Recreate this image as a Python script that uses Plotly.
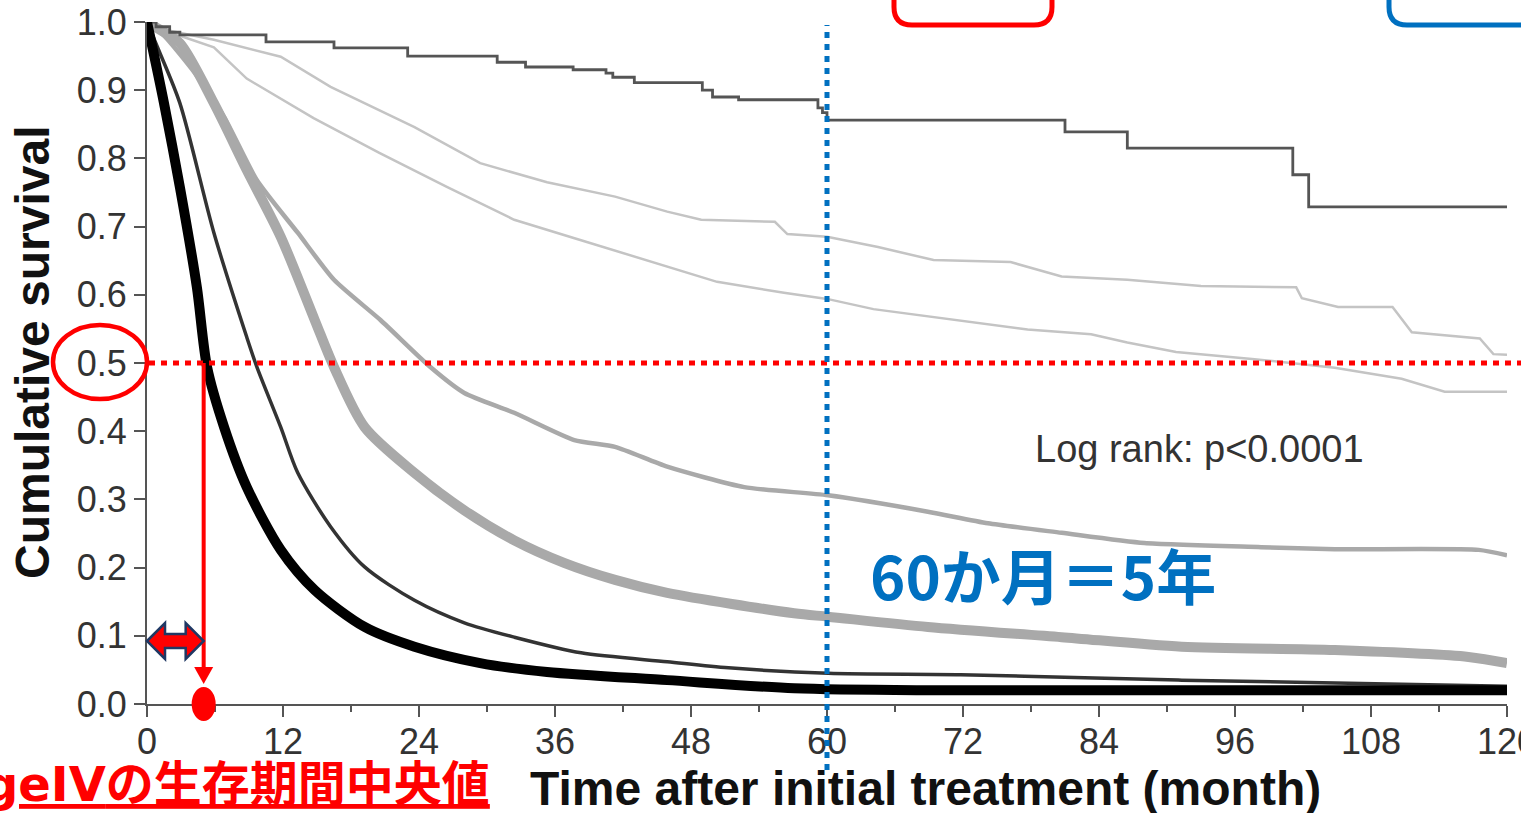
import plotly.graph_objects as go

# ---------------- data: Kaplan-Meier survival by stage ----------------
X_MAX = 120
x_ticks = list(range(0, 121, 12))
y_ticks = [i / 10 for i in range(11)]

# stage 0 (step curve)
t_stage0 = [0, 0.8, 2.0, 2.9, 10.5, 16.5, 23.0, 30.9, 33.4, 37.6, 40.5, 41.1, 43.0,
            49.0, 49.9, 52.2, 59.2, 59.6, 60.0, 81.0, 86.5, 101.1, 102.5, 120]
s_stage0 = [1.000, 0.993, 0.985, 0.981, 0.971, 0.962, 0.950, 0.941, 0.934, 0.930, 0.925, 0.919, 0.911,
            0.900, 0.890, 0.886, 0.874, 0.867, 0.856, 0.839, 0.815, 0.776, 0.729, 0.729]

# stage I
t_stage1 = [0, 1.8, 5.9, 11.8, 16.2, 23.6, 29.4, 35.3, 41.3, 45.9, 48.9, 55.4, 56.5, 60.0,
            64.5, 69.4, 76.2, 80.7, 86.5, 93.0, 101.4, 101.9, 105.1, 109.9, 111.6, 117.6, 118.8, 120]
s_stage1 = [1.000, 0.988, 0.974, 0.949, 0.905, 0.846, 0.793, 0.765, 0.744, 0.722, 0.710, 0.707, 0.689, 0.685,
            0.670, 0.651, 0.648, 0.627, 0.622, 0.613, 0.611, 0.595, 0.582, 0.582, 0.545, 0.536, 0.513, 0.512]

# stage II
t_stage2 = [0, 2.0, 5.9, 8.8, 14.7, 20.5, 26.5, 32.4, 38.3, 45.9, 50.3, 56.2, 60.0, 64.1,
            73.0, 77.7, 83.3, 86.5, 90.8, 97.5, 104.8, 110.7, 114.5, 120]
s_stage2 = [1.000, 0.985, 0.963, 0.917, 0.859, 0.808, 0.758, 0.710, 0.680, 0.641, 0.619, 0.603, 0.594, 0.579,
            0.560, 0.549, 0.542, 0.530, 0.516, 0.506, 0.493, 0.477, 0.458, 0.458]

# stage IIIA
t_stage3a = [0, 1.5, 4.0, 6.8, 9.7, 13.3, 16.5, 20.6, 25.0, 28.0, 32.4, 37.7, 41.3, 45.9, 52.7,
             60.1, 68.9, 74.2, 80.7, 88.0, 98.3, 104.8, 117.5, 120]
s_stage3a = [1.000, 0.980, 0.930, 0.861, 0.768, 0.691, 0.622, 0.563, 0.494, 0.456, 0.427, 0.387, 0.377, 0.348, 0.318,
             0.306, 0.282, 0.265, 0.251, 0.236, 0.230, 0.227, 0.226, 0.218]

# stage IIIB
t_stage3b = [0, 1.0, 2.9, 5.9, 8.8, 11.8, 14.8, 16.5, 19.2, 23.6, 28.0, 32.4, 36.8, 41.3, 45.9,
             57.1, 60.1, 68.9, 80.7, 91.3, 104.8, 116.6, 120]
s_stage3b = [1.000, 0.990, 0.969, 0.881, 0.783, 0.685, 0.563, 0.494, 0.406, 0.339, 0.284, 0.240, 0.207, 0.182, 0.163,
             0.133, 0.128, 0.113, 0.098, 0.084, 0.079, 0.069, 0.060]

# stage IVA
t_stage4a = [0, 1.0, 2.9, 5.9, 8.8, 9.7, 11.8, 13.3, 16.2, 19.2, 23.6, 28.0, 32.4, 38.3, 45.9,
             51.3, 60.1, 71.8, 83.6, 91.3, 120]
s_stage4a = [1.000, 0.960, 0.881, 0.691, 0.538, 0.494, 0.406, 0.339, 0.260, 0.201, 0.152, 0.119, 0.098, 0.075, 0.062,
             0.053, 0.045, 0.043, 0.038, 0.035, 0.026]

# stage IV
t_stage4 = [0, 1.5, 2.9, 4.4, 5.3, 6.8, 8.8, 11.8, 14.8, 19.2, 23.6, 29.4, 35.3, 45.9, 57.1, 68.9, 120]
s_stage4 = [1.000, 0.881, 0.758, 0.611, 0.494, 0.406, 0.318, 0.226, 0.167, 0.113, 0.084, 0.060, 0.047, 0.035, 0.023,
            0.020, 0.020]

MEDIAN_STAGE4 = 5.0     # months
FIVE_YEARS = 60         # months

# ---------------- geometry helpers ----------------
W, H = 1521, 813
PLOT_L, PLOT_R, PLOT_T, PLOT_B = 147, 1507, 22, 704


def px_x(px):
    return (px - PLOT_L) / (PLOT_R - PLOT_L)


def px_y(py):
    return (PLOT_B - py) / (PLOT_B - PLOT_T)


def data_x(t):
    return t / X_MAX


def data_px(t):
    return PLOT_L + t / X_MAX * (PLOT_R - PLOT_L)


def path(points, close=False):
    s = "M " + " L ".join(f"{px_x(x):.5f},{px_y(y):.5f}" for x, y in points)
    return s + (" Z" if close else "")


def rounded_bottom(x0, x1, ybot, ytop, r):
    return (f"M {px_x(x0):.5f},{px_y(ytop):.5f} L {px_x(x0):.5f},{px_y(ybot - r):.5f} "
            f"Q {px_x(x0):.5f},{px_y(ybot):.5f} {px_x(x0 + r):.5f},{px_y(ybot):.5f} "
            f"L {px_x(x1 - r):.5f},{px_y(ybot):.5f} "
            f"Q {px_x(x1):.5f},{px_y(ybot):.5f} {px_x(x1):.5f},{px_y(ybot - r):.5f} "
            f"L {px_x(x1):.5f},{px_y(ytop):.5f}")


RED = "#FF0000"
BLUE = "#0070C0"
NAVY = "#1F3864"
SANS = "Liberation Sans, Arial, sans-serif"

fig = go.Figure()

curves = [
    (t_stage1, s_stage1, "#c4c4c4", 2.5, "linear", 0, "Stage I"),
    (t_stage2, s_stage2, "#c4c4c4", 2.5, "linear", 0, "Stage II"),
    (t_stage3a, s_stage3a, "#a9a9a9", 4.5, "spline", 0.6, "Stage IIIA"),
    (t_stage3b, s_stage3b, "#a9a9a9", 10, "spline", 0.8, "Stage IIIB"),
    (t_stage0, s_stage0, "#555555", 2.8, "hv", 0, "Stage 0"),
    (t_stage4a, s_stage4a, "#333333", 3.5, "spline", 0.8, "Stage IVA"),
    (t_stage4, s_stage4, "#000000", 10, "spline", 0.8, "Stage IV"),
]
for t, s, color, width, shape, smooth, name in curves:
    line = dict(color=color, width=width, shape=shape)
    if shape == "spline":
        line["smoothing"] = smooth
    fig.add_trace(go.Scatter(x=t, y=s, mode="lines", name=name, line=line, hoverinfo="skip"))

xm = data_px(MEDIAN_STAGE4)
shapes = [
    # ring around the 0.5 tick label
    dict(type="circle", xref="paper", yref="paper",
         x0=px_x(53), x1=px_x(147), y0=px_y(399), y1=px_y(325),
         line=dict(color=RED, width=4.5)),
    # 50% survival guide
    dict(type="line", xref="paper", yref="paper",
         x0=px_x(149), x1=px_x(1525), y0=0.5, y1=0.5,
         line=dict(color=RED, width=5, dash="6px,6px")),
    # five-year guide
    dict(type="line", xref="paper", yref="paper",
         x0=data_x(FIVE_YEARS), x1=data_x(FIVE_YEARS), y0=px_y(770), y1=px_y(25),
         line=dict(color=BLUE, width=5, dash="6px,6px")),
    # drop line from median survival
    dict(type="line", xref="paper", yref="paper",
         x0=data_x(MEDIAN_STAGE4), x1=data_x(MEDIAN_STAGE4), y0=0.5, y1=px_y(668),
         line=dict(color=RED, width=4)),
    dict(type="path", xref="paper", yref="paper",
         path=path([(xm - 9.5, 667), (xm + 9.5, 667), (xm, 684)], close=True),
         fillcolor=RED, line=dict(width=0)),
    # median marker on the time axis
    dict(type="circle", xref="paper", yref="paper",
         x0=px_x(xm - 12), x1=px_x(xm + 12), y0=px_y(721), y1=px_y(687),
         fillcolor=RED, line=dict(width=0)),
    # double arrow spanning 0 .. median
    dict(type="path", xref="paper", yref="paper",
         path=path([(PLOT_L, 641), (PLOT_L + 18, 623), (PLOT_L + 18, 634), (xm - 18, 634),
                    (xm - 18, 623), (xm, 641), (xm - 18, 659), (xm - 18, 648),
                    (PLOT_L + 18, 648), (PLOT_L + 18, 659)], close=True),
         fillcolor=RED, line=dict(color=NAVY, width=2.5)),
    # callout frames running off the top edge
    dict(type="path", xref="paper", yref="paper",
         path=rounded_bottom(894, 1052, 25, -40, 18),
         line=dict(color=RED, width=5)),
    dict(type="path", xref="paper", yref="paper",
         path=rounded_bottom(1389, 1600, 25, -40, 18),
         line=dict(color=BLUE, width=5)),
]

title_font = dict(family=SANS, size=48, color="#111111", weight="bold")

annotations = [
    # axis titles
    dict(text="Time after initial treatment (month)", xref="paper", yref="paper",
         x=px_x(925), y=px_y(789), xanchor="center", yanchor="middle", showarrow=False,
         font=title_font),
    dict(text="Cumulative survival", xref="paper", yref="paper", textangle=-90,
         x=px_x(32), y=px_y(352), xanchor="center", yanchor="middle", showarrow=False,
         font=title_font),
    dict(text="Log rank: p<0.0001", xref="paper", yref="paper",
         x=px_x(1033), y=px_y(449), xanchor="left", yanchor="middle", showarrow=False,
         font=dict(family=SANS, size=38, color="#333333")),
    dict(text="60か月＝5年", xref="paper", yref="paper",
         x=px_x(868), y=px_y(573), xanchor="left", yanchor="middle", showarrow=False,
         font=dict(family="Noto Sans CJK JP", size=60, color=BLUE, weight="bold")),
    dict(text='<span style="font-family:DejaVu Sans">StageIV</span>の生存期間中央値',
         xref="paper", yref="paper",
         x=px_x(492), y=px_y(780), xanchor="right", yanchor="middle", showarrow=False,
         font=dict(family="Noto Sans CJK JP", size=48, color=RED, weight="bold",
                   lineposition="under")),
]

tick_font = dict(family=SANS, size=36, color="#333333")

fig.update_layout(
    width=W, height=H,
    margin=dict(l=PLOT_L, r=W - PLOT_R, t=PLOT_T, b=H - PLOT_B, autoexpand=False),
    paper_bgcolor="white", plot_bgcolor="white",
    showlegend=False,
    shapes=shapes, annotations=annotations,
    xaxis=dict(range=[0, X_MAX], tickvals=x_ticks, ticktext=[str(v) for v in x_ticks],
               showgrid=False, zeroline=False, showline=True, linecolor="#555555", linewidth=2,
               ticks="outside", ticklen=11, tickwidth=2, tickcolor="#555555",
               minor=dict(dtick=6, ticks="outside", ticklen=6, tickwidth=2, tickcolor="#555555"),
               tickfont=tick_font, ticklabeloverflow="allow", ticklabelstandoff=-6),
    yaxis=dict(range=[0, 1], tickvals=y_ticks, ticktext=[f"{v:.1f}" for v in y_ticks],
               showgrid=False, zeroline=False, showline=True, linecolor="#555555", linewidth=2,
               ticks="outside", ticklen=11, tickwidth=2, tickcolor="#555555",
               tickfont=tick_font),
)

fig.write_html("out.html")
